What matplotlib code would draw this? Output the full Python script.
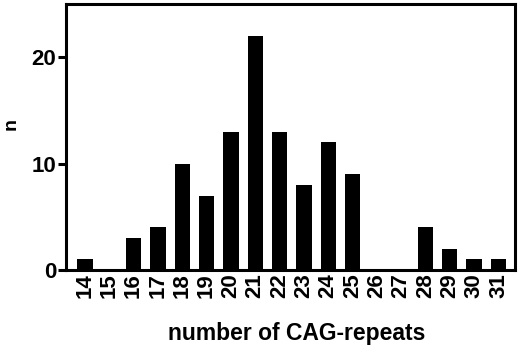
import numpy as np
import matplotlib
matplotlib.use('Agg')
import matplotlib.pyplot as plt

plt.rcParams['font.family'] = ['Liberation Sans', 'DejaVu Sans']
plt.rcParams['font.weight'] = 'bold'

# CAG-repeat counts and number of alleles
repeats = ['14', '15', '16', '17', '18', '19', '20', '21', '22',
           '23', '24', '25', '26', '27', '28', '29', '30', '31']
counts = [1, 0, 3, 4, 10, 7, 13, 22, 13, 8, 12, 9, 0, 0, 4, 2, 1, 1]

W, H = 520, 347
fig = plt.figure(figsize=(W/100, H/100), dpi=100)
ax = fig.add_axes([66/W, 1 - 270/H, (515 - 66)/W, (270 - 4)/H])

xpos = np.arange(len(repeats))
ax.bar(xpos, counts, width=0.63, color='black')

ax.set_xlim(-0.78, len(repeats) - 1 + 0.68)
ax.set_ylim(0, 25)
ax.set_yticks([0, 10, 20])
ax.set_xticks(xpos)
ax.set_xticklabels(repeats, rotation=90, fontsize=16, fontweight='bold')
ax.tick_params(axis='y', labelsize=16, length=6, width=2.2, pad=1)
ax.tick_params(axis='x', length=0, pad=2)
for lbl in ax.get_yticklabels():
    lbl.set_fontweight('bold')

for sp in ax.spines.values():
    sp.set_linewidth(2.2)

# axis titles placed by hand to follow the original
fig.text(297/W, 1 - 340/H, 'number of CAG-repeats', fontsize=16.5,
         fontweight='bold', ha='center', va='baseline')
fig.text(11/W, 1 - 124/H, 'n', fontsize=14, fontweight='bold',
         rotation=90, ha='center', va='center')

fig.savefig('out.png', dpi=100)
